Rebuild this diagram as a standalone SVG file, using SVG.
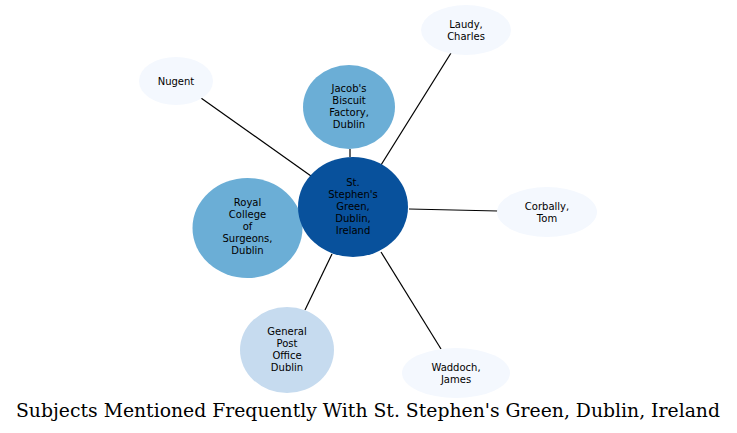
<svg xmlns="http://www.w3.org/2000/svg" width="737" height="433" viewBox="0 0 737 433">
<style>
.lbl{font-family:"DejaVu Sans",sans-serif;font-size:10px;text-anchor:middle;fill:#000}
.edge{stroke:#000;stroke-width:1.2;fill:none}
.title{font-family:"DejaVu Serif",serif;font-size:18.5px;text-anchor:middle;fill:#000}
</style>
<rect width="737" height="433" fill="#fff"/>
<g id="connectors">
<line class="edge" x1="201" y1="98" x2="311" y2="176"/>
<line class="edge" x1="451" y1="53" x2="381" y2="165"/>
<line class="edge" x1="350" y1="149" x2="350" y2="157"/>
<line class="edge" x1="409" y1="209" x2="498" y2="211"/>
<line class="edge" x1="305" y1="310" x2="332" y2="254"/>
<line class="edge" x1="381" y1="252" x2="441" y2="349"/>
<line class="edge" x1="298" y1="216" x2="300" y2="217"/>
</g>
<g id="n-nugent">
<ellipse cx="176" cy="81" rx="37" ry="24" fill="#f4f8fe"/>
<text class="lbl" x="176" y="84.5">Nugent</text>
</g>
<g id="n-laudy">
<ellipse cx="466" cy="30" rx="45" ry="25" fill="#f4f8fe"/>
<text class="lbl" x="466" y="27.5">Laudy,</text>
<text class="lbl" x="466" y="39.5">Charles</text>
</g>
<g id="n-jacobs">
<ellipse cx="349" cy="107" rx="46" ry="42" fill="#6baed6"/>
<text class="lbl" x="349" y="92">Jacob's</text>
<text class="lbl" x="349" y="104">Biscuit</text>
<text class="lbl" x="349" y="116">Factory,</text>
<text class="lbl" x="349" y="128">Dublin</text>
</g>
<g id="n-royal">
<ellipse cx="247.5" cy="228" rx="55" ry="50" fill="#6baed6"/>
<text class="lbl" x="247.5" y="206">Royal</text>
<text class="lbl" x="247.5" y="218">College</text>
<text class="lbl" x="247.5" y="230">of</text>
<text class="lbl" x="247.5" y="242">Surgeons,</text>
<text class="lbl" x="247.5" y="254">Dublin</text>
</g>
<g id="n-center">
<ellipse cx="353" cy="207" rx="55" ry="50" fill="#08519c"/>
<text class="lbl" x="353" y="186">St.</text>
<text class="lbl" x="353" y="198">Stephen's</text>
<text class="lbl" x="353" y="210">Green,</text>
<text class="lbl" x="353" y="222">Dublin,</text>
<text class="lbl" x="353" y="234">Ireland</text>
</g>
<g id="n-corbally">
<ellipse cx="547" cy="212" rx="50" ry="25" fill="#f4f8fe"/>
<text class="lbl" x="547" y="209.5">Corbally,</text>
<text class="lbl" x="547" y="221.5">Tom</text>
</g>
<g id="n-gpo">
<ellipse cx="287" cy="350" rx="47" ry="43" fill="#c6dbef"/>
<text class="lbl" x="287" y="335">General</text>
<text class="lbl" x="287" y="347">Post</text>
<text class="lbl" x="287" y="359">Office</text>
<text class="lbl" x="287" y="371">Dublin</text>
</g>
<g id="n-waddoch">
<ellipse cx="456" cy="373" rx="54" ry="25" fill="#f4f8fe"/>
<text class="lbl" x="456" y="370.5">Waddoch,</text>
<text class="lbl" x="456" y="382.5">James</text>
</g>
<text class="title" x="368" y="417" textLength="704" lengthAdjust="spacingAndGlyphs">Subjects Mentioned Frequently With St. Stephen's Green, Dublin, Ireland</text>
</svg>
